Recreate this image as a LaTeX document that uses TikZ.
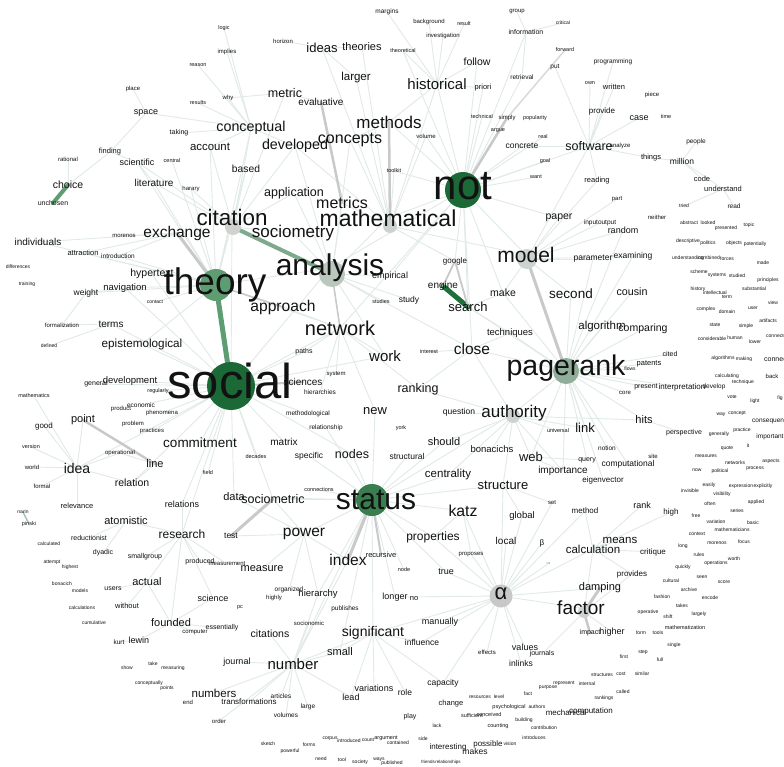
\documentclass[tikz,border=0pt]{standalone}
\usepackage{fontspec}
\setmainfont{Liberation Sans}
\pgfdeclarelayer{bg}
\pgfdeclarelayer{edges}
\pgfdeclarelayer{circ}
\pgfsetlayers{bg,edges,circ,main}
\definecolor{txt}{HTML}{121212}
\definecolor{faint}{HTML}{E0EAE8}
\definecolor{greyE}{HTML}{C9C9C9}
\definecolor{gA}{HTML}{5E9C72}
\definecolor{gB}{HTML}{7EA98D}
\definecolor{gC}{HTML}{1F6F3B}
\definecolor{gDark}{HTML}{1A6937}
\definecolor{gStat}{HTML}{3A7E50}
\definecolor{gPage}{HTML}{8FAD98}
\definecolor{gAna}{HTML}{B9C7BD}
\definecolor{gModel}{HTML}{CDD3CF}
\definecolor{gAlpha}{HTML}{C8C8C8}
\tikzset{
  wd/.style={inner sep=0pt,text=txt},
  hub/.style={circle,inner sep=0pt,draw=none},
  fe/.style={draw=faint,line width=0.9pt},
  te/.style={line cap=round},
}
\newcommand\Wd[4]{\node[wd,font=\fontsize{#3}{#3}\selectfont] (#4) at (#1,#2) {#4};}
\newcommand\Wn[5]{\node[wd,font=\fontsize{#4}{#4}\selectfont] (#1) at (#2,#3) {#5};}
\begin{document}
\begin{tikzpicture}[x=1pt,y=-1pt]
\begin{pgfonlayer}{bg}
\fill[white] (0,0) rectangle (784,766);
\end{pgfonlayer}
\useasboundingbox (0,0) rectangle (784,766);
% hub circles
\begin{pgfonlayer}{circ}
\node[hub,fill=gDark,minimum size=48pt] (c-social) at (231,386) {};
\node[hub,fill=gDark,minimum size=36pt] (c-not) at (463,190) {};
\node[hub,fill=gA,minimum size=32pt] (c-theory) at (216,285) {};
\node[hub,fill=gStat,minimum size=32pt] (c-status) at (372,500) {};
\node[hub,fill=gPage,minimum size=26pt] (c-pagerank) at (566,371) {};
\node[hub,fill=gAna,minimum size=26pt] (c-analysis) at (332,274) {};
\node[hub,fill=gModel,minimum size=20pt] (c-model) at (527,259) {};
\node[hub,fill=gAlpha,minimum size=23pt] (c-alpha) at (501,596) {};
\node[hub,fill=gModel,minimum size=16pt] (c-citation) at (233,227) {};
\node[hub,fill=gModel,minimum size=14pt] (c-math) at (390,226) {};
\node[hub,fill=gModel,minimum size=14pt] (c-auth) at (513,416) {};
\node[hub,fill=gModel,minimum size=12pt] (c-factor) at (584,612) {};
\end{pgfonlayer}
% ---- words: top ----
\Wd{387}{12}{6.5}{margins}
\Wd{429}{22}{6}{background}
\Wd{464}{24}{5.5}{result}
\Wd{443}{36}{6}{investigation}
\Wd{517}{12}{6}{group}
\Wd{563}{23}{5}{critical}
\Wd{526}{32}{7}{information}
\Wd{403}{51}{5.5}{theoretical}
\Wd{565}{50}{5.5}{forward}
\Wd{477}{62}{10.5}{follow}
\Wd{555}{67}{6.5}{put}
\Wd{437}{84}{15}{historical}
\Wd{483}{88}{7.5}{priori}
\Wd{522}{77}{6.5}{retrieval}
\Wd{590}{83}{5.5}{own}
\Wd{613}{62}{6.5}{programming}
\Wd{614}{87}{7.5}{written}
\Wd{652}{95}{6}{piece}
\Wd{602}{111}{8}{provide}
\Wd{639}{118}{9}{case}
\Wd{666}{117}{5.5}{time}
\Wd{389}{122}{17}{methods}
\Wd{482}{117}{5.5}{technical}
\Wd{507}{118}{6}{simply}
\Wd{535}{118}{5.5}{popularity}
\Wd{498}{131}{5.5}{argue}
\Wd{426}{136}{6}{volume}
\Wd{543}{137}{5.5}{real}
\Wd{522}{146}{8.5}{concrete}
\Wd{589}{146}{12.5}{software}
\Wd{620}{146}{6}{analyze}
\Wd{545}{161}{5.5}{goal}
\Wd{394}{171}{5.5}{toolkit}
\Wd{536}{177}{5.5}{want}
\Wd{463}{186}{42}{not}
\Wd{559}{218}{10.5}{paper}
\Wd{600}{223}{6.5}{inputoutput}
\Wd{696}{142}{6.5}{people}
\Wd{651}{158}{7.5}{things}
\Wd{682}{161}{8.5}{million}
\Wd{702}{179}{7.5}{code}
\Wd{723}{189}{7.5}{understand}
\Wd{597}{181}{7.5}{reading}
\Wd{617}{199}{6}{part}
\Wd{684}{206}{5}{tried}
\Wd{734}{206}{6.5}{read}
\Wd{657}{217}{6}{neither}
\Wd{623}{230}{9}{random}
\Wd{689}{223}{5}{abstract}
\Wd{708}{223}{5}{looked}
\Wd{726}{228}{5}{presented}
\Wd{749}{225}{5}{topic}
\Wd{688}{241}{5}{descriptive}
\Wd{708}{243}{5}{politics}
\Wd{734}{243}{5}{objects}
\Wd{755}{244}{5}{potentially}
\Wd{633}{256}{8.5}{examining}
\Wd{593}{259}{8.5}{parameter}
\Wd{688}{258}{5}{understanding}
\Wd{709}{258}{5}{combined}
\Wd{727}{259}{5}{forces}
\Wd{763}{263}{5}{made}
\Wd{699}{272}{5}{scheme}
\Wd{717}{275}{5}{systems}
\Wd{737}{276}{5}{studied}
\Wd{768}{280}{5}{principles}
% ---- top left ----
\Wd{198}{65}{5.5}{reason}
\Wd{133}{89}{6}{place}
\Wd{198}{103}{5.5}{results}
\Wd{146}{113}{9}{space}
\Wd{179}{133}{7}{taking}
\Wd{68}{159}{6}{rational}
\Wd{110}{152}{7.5}{finding}
\Wd{137}{162}{9}{scientific}
\Wd{172}{161}{5.5}{central}
\Wd{68}{185}{10.5}{choice}
\Wd{154}{183}{10}{literature}
\Wd{191}{189}{6}{harary}
\Wd{53}{203}{7}{unchosen}
\Wd{124}{236}{6}{morenos}
\Wd{177}{233}{15.5}{exchange}
\Wd{38}{242}{10}{individuals}
\Wd{83}{253}{7.5}{attraction}
\Wd{118}{256}{6.5}{introduction}
\Wd{224}{28}{5.5}{logic}
\Wd{283}{41}{6}{horizon}
\Wd{227}{52}{6}{implies}
\Wd{322}{48}{13}{ideas}
\Wd{362}{47}{11}{theories}
\Wd{356}{78}{11.5}{larger}
\Wd{228}{98}{6}{why}
\Wd{285}{93}{12.5}{metric}
\Wd{321}{102}{10}{evaluative}
\Wd{251}{128}{14.3}{conceptual}
\Wd{210}{147}{11.4}{account}
\Wd{295}{146}{14.3}{developed}
\Wd{350}{140}{16}{concepts}
\Wd{246}{169}{10.3}{based}
\Wd{294}{193}{12.5}{application}
\Wd{342}{203}{16}{metrics}
\Wd{232}{217}{22.4}{citation}
\Wd{388}{218}{23}{mathematical}
\Wd{293}{233}{17}{sociometry}
% ---- middle left ----
\Wd{18}{267}{5}{differences}
\Wd{27}{284}{5}{training}
\Wd{86}{293}{8.5}{weight}
\Wd{125}{288}{9.5}{navigation}
\Wd{155}{302}{5}{contact}
\Wd{62}{325}{6}{formalization}
\Wd{111}{324}{10}{terms}
\Wd{49}{346}{5}{defined}
\Wd{142}{344}{11.7}{epistemological}
\Wd{34}{396}{5.5}{mathematics}
\Wd{96}{384}{7}{general}
\Wd{130}{381}{9.5}{development}
\Wd{158}{391}{5.5}{regularly}
\Wd{121}{409}{6}{product}
\Wd{141}{405}{6.5}{economic}
\Wd{162}{413}{6}{phenomena}
\Wd{44}{426}{8}{good}
\Wd{83}{420}{11}{point}
\Wd{133}{424}{6}{problem}
\Wd{152}{431}{6}{practices}
\Wd{200}{443}{13.5}{commitment}
\Wd{31}{447}{5.5}{version}
\Wd{120}{453}{6}{operational}
\Wd{155}{464}{11}{line}
\Wd{32}{467}{6}{world}
\Wd{77}{468}{14}{idea}
\Wd{42}{486}{6}{formal}
\Wd{132}{483}{10.5}{relation}
\Wd{77}{506}{7.5}{relevance}
\Wd{182}{504}{9}{relations}
% ---- center ----
\Wd{215}{285}{37}{theory}
\Wd{152}{274}{10.5}{hypertext}
\Wd{330}{268}{30}{analysis}
\Wd{283}{307}{15.6}{approach}
\Wd{340}{328}{20}{network}
\Wd{304}{352}{7}{paths}
\Wd{385}{356}{15}{work}
\Wd{230}{381}{49}{social}
\Wd{303}{382}{10}{sciences}
\Wd{336}{374}{6}{system}
\Wd{320}{392}{6.5}{hierarchies}
\Wd{308}{414}{6.5}{methodological}
\Wd{375}{411}{13}{new}
\Wd{326}{428}{6.5}{relationship}
\Wd{284}{442}{10}{matrix}
\Wd{256}{457}{5.5}{decades}
\Wd{309}{456}{8.5}{specific}
\Wd{352}{454}{12.5}{nodes}
\Wd{208}{473}{5.5}{field}
\Wd{319}{490}{5.5}{connections}
\Wd{234}{497}{11}{data}
\Wd{273}{499}{12.5}{sociometric}
\Wd{376}{500}{30}{status}
% ---- right center ----
\Wd{455}{261}{8}{google}
\Wd{526}{255}{21}{model}
\Wd{390}{276}{9}{empirical}
\Wd{443}{286}{10}{engine}
\Wd{409}{300}{8.5}{study}
\Wd{381}{302}{5.5}{studies}
\Wd{503}{293}{10.5}{make}
\Wd{468}{307}{13}{search}
\Wd{571}{294}{13.5}{second}
\Wd{632}{292}{10.7}{cousin}
\Wd{698}{289}{5}{history}
\Wd{715}{293}{5}{intellectual}
\Wd{727}{297}{5}{term}
\Wd{754}{289}{5}{substantial}
\Wd{773}{303}{5}{view}
\Wd{706}{309}{5}{complex}
\Wd{727}{312}{5}{domain}
\Wd{753}{308}{5}{user}
\Wd{510}{333}{9.5}{techniques}
\Wd{602}{327}{11.5}{algorithm}
\Wd{643}{329}{10.5}{comparing}
\Wd{715}{325}{5}{state}
\Wd{746}{326}{5}{simple}
\Wd{768}{321}{5}{artifacts}
\Wd{712}{339}{5}{considerable}
\Wd{735}{338}{5}{human}
\Wd{755}{342}{5}{lower}
\node[wd,anchor=west,font=\fontsize{5}{5}\selectfont] (connected) at (766,336) {connected};
\node[wd,anchor=west,font=\fontsize{7}{7}\selectfont] (connection) at (764,359) {connection};
\Wd{429}{352}{5.5}{interest}
\Wd{472}{349}{15.5}{close}
\Wd{566}{368}{28.5}{pagerank}
\Wd{670}{354}{7}{cited}
\Wd{649}{364}{7.5}{patents}
\Wd{630}{369}{5}{flows}
\Wd{723}{358}{5}{algorithms}
\Wd{744}{359}{5}{making}
\Wd{727}{376}{5}{calculating}
\Wd{772}{376}{6}{back}
\Wd{743}{382}{5}{technique}
\Wd{646}{387}{7}{present}
\Wd{682}{387}{8}{interpretation}
\Wd{714}{387}{6.5}{develop}
\Wd{625}{393}{6}{core}
\Wd{732}{397}{5}{vote}
\Wd{755}{401}{5}{light}
\Wd{780}{398}{5}{fig}
\Wd{418}{389}{12.5}{ranking}
\Wd{459}{412}{8.5}{question}
\Wd{514}{413}{17}{authority}
\Wd{644}{420}{11}{hits}
\Wd{721}{415}{5}{way}
\Wd{737}{413}{5}{concept}
\node[wd,anchor=west,font=\fontsize{6.5}{6.5}\selectfont] (consequences) at (752,421) {consequences};
\Wd{401}{428}{5.5}{york}
\Wd{558}{431}{5.5}{universal}
\Wd{585}{428}{13}{link}
\Wd{684}{433}{7}{perspective}
\Wd{719}{434}{5}{generally}
\Wd{742}{430}{5}{practice}
\Wd{770}{437}{6.5}{important}
\Wd{727}{448}{5}{quote}
\Wd{748}{446}{5}{it}
\Wd{607}{448}{6.5}{notion}
\Wd{444}{442}{11}{should}
\Wd{492}{449}{9.5}{bonacichs}
\Wd{407}{456}{8.5}{structural}
\Wd{531}{457}{13}{web}
\Wd{587}{460}{7}{query}
\Wd{653}{456}{6}{site}
\Wd{706}{456}{5}{measures}
\Wd{771}{461}{5}{aspects}
\Wd{735}{463}{5}{networks}
\Wd{755}{469}{5}{process}
\Wd{628}{464}{8.5}{computational}
\Wd{563}{471}{10}{importance}
\Wd{697}{470}{5}{now}
\Wd{720}{471}{5}{political}
\Wd{603}{480}{8}{eigenvector}
\Wd{448}{475}{11.5}{centrality}
\Wd{503}{485}{13}{structure}
\Wd{690}{491}{5}{invisible}
\Wd{709}{485}{5}{easily}
\Wd{741}{486}{5}{expression}
\Wd{763}{486}{5}{explicitly}
\Wd{722}{494}{5}{visibility}
\Wd{552}{503}{6}{set}
% ---- lower right ----
\Wd{463}{511}{15.8}{katz}
\Wd{522}{516}{9.5}{global}
\Wd{585}{511}{8}{method}
\Wd{642}{505}{9}{rank}
\Wd{671}{512}{8}{high}
\Wd{710}{504}{5}{often}
\Wd{756}{502}{5}{applied}
\Wd{737}{511}{5}{series}
\Wd{696}{516}{5}{free}
\Wd{716}{522}{5}{variation}
\Wd{753}{523}{5}{basic}
\Wd{732}{530}{5}{mathematicians}
\Wd{433}{537}{12}{properties}
\Wd{506}{541}{10}{local}
\Wn{beta}{542}{543}{8}{β}
\Wd{593}{549}{11.5}{calculation}
\Wd{620}{540}{11.5}{means}
\Wd{697}{534}{5}{context}
\Wd{683}{546}{5}{long}
\Wn{morenosb}{717}{543}{5}{morenos}
\Wd{744}{542}{5}{focus}
\Wd{653}{552}{8}{critique}
\Wd{699}{555}{5}{rules}
\Wd{716}{563}{5}{operations}
\Wd{734}{559}{5}{worth}
\Wd{683}{567}{5}{quickly}
\Wd{381}{555}{7.5}{recursive}
\Wd{471}{554}{6}{proposes}
\Wn{arrow}{548}{564}{6}{→}
\Wn{nodeW}{404}{570}{5.5}{node}
\Wd{446}{572}{9}{true}
\Wd{632}{574}{8}{provides}
\Wd{702}{577}{5}{seen}
\Wd{671}{581}{5}{cultural}
\Wd{724}{582}{5}{score}
\Wd{689}{590}{5}{archive}
\Wd{600}{588}{11}{damping}
\Wn{alpha}{501}{594}{22}{α}
\Wd{395}{597}{9}{longer}
\Wd{414}{599}{7.5}{no}
\Wd{662}{597}{5}{fashion}
\Wd{710}{598}{5}{encode}
\Wd{581}{608}{19}{factor}
\Wd{682}{606}{5}{takes}
\Wd{648}{612}{5}{operative}
\Wd{699}{614}{5}{largely}
\Wd{668}{617}{5}{shift}
\Wd{440}{622}{9}{manually}
\Wd{373}{633}{14}{significant}
\Wd{422}{642}{8.5}{influence}
\Wd{590}{633}{7}{impact}
\Wd{612}{632}{9}{higher}
\Wd{685}{628}{5.5}{mathematization}
\Wd{641}{633}{5}{form}
\Wd{658}{633}{5}{tools}
\Wd{674}{645}{5}{single}
\Wd{643}{652}{5}{step}
\Wd{624}{657}{5}{first}
\Wd{660}{660}{5}{full}
\Wd{487}{652}{6}{effects}
\Wd{525}{647}{9}{values}
\Wd{542}{654}{7}{journals}
\Wd{521}{663}{8.5}{inlinks}
\Wd{602}{675}{5}{structures}
\Wd{621}{674}{5}{cost}
\Wd{642}{674}{5}{similar}
\Wd{623}{692}{5}{called}
\Wd{604}{698}{5}{rankings}
\Wd{443}{683}{8.5}{capacity}
\Wd{374}{688}{9}{variations}
\Wd{405}{692}{8.5}{role}
\Wd{351}{697}{9}{lead}
\Wd{564}{683}{5}{represent}
\Wd{587}{684}{5}{internal}
\Wd{548}{688}{5}{purpose}
\Wd{528}{694}{5}{fact}
\Wd{480}{697}{5}{resources}
\Wd{499}{697}{5}{level}
\Wd{451}{704}{7.5}{change}
\Wd{509}{707}{5.5}{psychological}
\Wd{537}{707}{5}{authors}
\Wd{566}{713}{8}{mechanical}
\Wd{591}{711}{8}{computation}
\Wd{410}{717}{7}{play}
\Wd{472}{716}{5.5}{sufficient}
\Wd{489}{715}{5.5}{conceived}
\Wd{524}{720}{5}{building}
\Wd{437}{726}{5}{lack}
\Wd{498}{726}{5.5}{counting}
\Wd{544}{728}{5}{contribution}
\Wd{386}{738}{5.5}{argument}
\Wd{423}{739}{5}{side}
\Wd{398}{743}{5}{contained}
\Wd{534}{738}{5}{introduces}
\Wd{448}{747}{8}{interesting}
\Wd{488}{744}{8}{possible}
\Wd{475}{751}{8.5}{makes}
\Wd{510}{744}{5}{vision}
\Wd{392}{763}{5}{published}
\Wd{428}{762}{4.5}{friends}
\Wd{448}{762}{4.5}{relationships}
% ---- lower left ----
\Wd{182}{534}{12}{research}
\Wd{231}{536}{8.5}{test}
\Wd{304}{534}{15.5}{power}
\Wd{348}{560}{15.5}{index}
\Wd{200}{562}{7}{produced}
\Wd{227}{564}{6}{measurement}
\Wd{262}{569}{11}{measure}
\Wd{289}{590}{6.5}{organized}
\Wd{318}{594}{9.5}{hierarchy}
\Wd{213}{598}{9}{science}
\Wd{274}{598}{6}{highly}
\Wd{240}{608}{5.5}{pc}
\Wd{345}{609}{6.5}{publishes}
\Wd{309}{623}{6}{socionomic}
\Wd{195}{632}{6}{computer}
\Wd{222}{628}{7}{essentially}
\Wd{270}{634}{10.5}{citations}
\Wd{340}{652}{11}{small}
\Wd{237}{662}{9}{journal}
\Wd{293}{664}{15}{number}
\Wd{214}{693}{11.5}{numbers}
\Wd{281}{696}{6.5}{articles}
\Wd{249}{702}{8}{transformations}
\Wd{308}{707}{6.5}{large}
\Wd{286}{715}{6.5}{volumes}
\Wd{219}{721}{6}{order}
\Wd{188}{702}{6}{end}
\Wd{268}{744}{5}{sketch}
\Wd{330}{739}{5}{corpus}
\Wd{349}{741}{5}{introduced}
\Wd{368}{740}{5}{count}
\Wd{309}{745}{5}{forms}
\Wd{290}{751}{5}{powerful}
\Wd{321}{759}{5}{need}
\Wd{342}{760}{5}{tool}
\Wd{360}{762}{5}{society}
\Wd{379}{760}{5}{ways}
\Wd{23}{512}{5}{narin}
\Wd{29}{524}{5.5}{pinski}
\Wd{126}{521}{11}{atomistic}
\Wd{89}{538}{7}{reductionist}
\Wd{49}{544}{5}{calculated}
\Wd{103}{553}{7}{dyadic}
\Wd{145}{557}{7}{smallgroup}
\Wd{52}{562}{5}{attempt}
\Wd{70}{567}{5}{highest}
\Wd{62}{584}{5}{bonacich}
\Wd{80}{591}{5}{models}
\Wd{113}{589}{7}{users}
\Wd{147}{582}{11}{actual}
\Wd{82}{608}{5}{calculations}
\Wd{127}{606}{7.5}{without}
\Wd{94}{623}{5}{cumulative}
\Wd{171}{623}{11}{founded}
\Wd{119}{642}{6.5}{kurt}
\Wd{139}{640}{9}{lewin}
\Wd{127}{668}{5}{show}
\Wd{153}{664}{5}{take}
\Wd{173}{668}{5}{measuring}
\Wd{149}{683}{5}{conceptually}
\Wd{167}{688}{5}{points}
% ---- connectors ----
\begin{pgfonlayer}{edges}
\foreach \t in {epistemological,development,commitment,relations,data,matrix,field,decades,network,hypertext,terms,regularly,economic,phenomena,practices,sociometric,methodological,paths,work,relation,research,analysis,citation,nodes,idea,navigation,general}
  \draw[fe] (c-social.center) -- (\t.center);
\foreach \t in {citation,literature,scientific,navigation,weight,attraction,individuals,analysis,conceptual,based,network,epistemological,account,introduction,contact,harary,central}
  \draw[fe] (c-theory.center) -- (\t.center);
\foreach \t in {historical,follow,methods,toolkit,volume,concrete,software,paper,model,mathematical,analysis,google,technical,argue,information,retrieval,priori,theoretical,want,goal,real,close,empirical,network,search,make}
  \draw[fe] (c-not.center) -- (\t.center);
\foreach \t in {mathematical,metrics,sociometry,network,empirical,studies,study,application,developed,concepts,work,close}
  \draw[fe] (c-analysis.center) -- (\t.center);
\foreach \t in {conceptual,account,based,developed,literature,harary,sociometry,application,metric,scientific}
  \draw[fe] (c-citation.center) -- (\t.center);
\foreach \t in {metrics,concepts,historical,toolkit,larger,theories,ideas,developed,model,google,volume}
  \draw[fe] (c-math.center) -- (\t.center);
\foreach \t in {power,katz,nodes,sociometric,properties,centrality,structural,should,new,significant,small,hierarchy,connections,data,authority,structure,number,nodeW,longer,true,specific,relationship}
  \draw[fe] (c-status.center) -- (\t.center);
\foreach \t in {algorithm,second,cousin,comparing,link,hits,authority,web,techniques,close,cited,patents,flows,present,interpretation,core,parameter,random,examining,make,search,importance,query,eigenvector,notion,computational}
  \draw[fe] (c-pagerank.center) -- (\t.center);
\foreach \t in {katz,global,local,beta,arrow,true,proposes,manually,values,effects,inlinks,factor,calculation,longer,significant,influence,properties,structure,method,set,damping,capacity}
  \draw[fe] (c-alpha.center) -- (\t.center);
\foreach \t in {web,hits,bonacichs,question,ranking,link,close,importance,structure,centrality,universal,should}
  \draw[fe] (c-auth.center) -- (\t.center);
\foreach \t in {paper,software,second,parameter,random,reading,inputoutput,part,make,examining}
  \draw[fe] (c-model.center) -- (\t.center);
\foreach \t in {provide,case,written,programming,own,put,reading,analyze,things,concrete}
  \draw[fe] (software.center) -- (\t.center);
\foreach \t in {people,code,things,understand} \draw[fe] (million.center) -- (\t.center);
\foreach \t in {read,tried} \draw[fe] (understand.center) -- (\t.center);
\foreach \t in {citations,journal,numbers,articles,transformations,large,volumes,small,lead,significant,index,hierarchy,socionomic,order}
  \draw[fe] (number.center) -- (\t.center);
\foreach \t in {measure,index,sociometric,data,test,hierarchy,organized}
  \draw[fe] (power.center) -- (\t.center);
\foreach \t in {relations,smallgroup,actual,atomistic,founded,produced,measurement,science}
  \draw[fe] (research.center) -- (\t.center);
\foreach \t in {lewin,computer,science,actual,essentially} \draw[fe] (founded.center) -- (\t.center);
\foreach \t in {point,good,version,world,formal,relevance,operational,relation,mathematics}
  \draw[fe] (idea.center) -- (\t.center);
\foreach \t in {space,taking,account,results,why,implies,logic,developed,reason}
  \draw[fe] (conceptual.center) -- (\t.center);
\foreach \t in {place,finding} \draw[fe] (space.center) -- (\t.center);
\foreach \t in {finding,literature} \draw[fe] (scientific.center) -- (\t.center);
\foreach \t in {theoretical,investigation,background,follow,priori,methods,margins,result}
  \draw[fe] (historical.center) -- (\t.center);
\foreach \t in {group,retrieval,critical} \draw[fe] (information.center) -- (\t.center);
\foreach \t in {means,method,rank,high,provides,critique} \draw[fe] (calculation.center) -- (\t.center);
\foreach \t in {journals,higher,calculation,provides} \draw[fe] (c-factor.center) -- (\t.center);
\foreach \t in {variations,influence,role,lead,capacity,small} \draw[fe] (significant.center) -- (\t.center);
\foreach \t in {morenos,introduction,attraction,individuals} \draw[fe] (exchange.center) -- (\t.center);
\foreach \t in {rational,finding} \draw[fe] (choice.center) -- (\t.center);
\foreach \t in {horizon,theories,larger} \draw[fe] (ideas.center) -- (\t.center);
\foreach \t in {evaluative,why} \draw[fe] (metric.center) -- (\t.center);
\foreach \t in {methods,developed} \draw[fe] (concepts.center) -- (\t.center);
\foreach \t in {paths,work,approach,system,hierarchies,ranking,new} \draw[fe] (network.center) -- (\t.center);
\foreach \t in {techniques,interest,ranking} \draw[fe] (close.center) -- (\t.center);
\foreach \t in {techniques,make} \draw[fe] (search.center) -- (\t.center);
\foreach \t in {reductionist,dyadic} \draw[fe] (atomistic.center) -- (\t.center);
\foreach \t in {users,without} \draw[fe] (actual.center) -- (\t.center);
\foreach \t in {navigation,formalization} \draw[fe] (weight.center) -- (\t.center);
\foreach \t in {formalization,defined} \draw[fe] (terms.center) -- (\t.center);
\foreach \t in {operational,relation} \draw[fe] (line.center) -- (\t.center);
\draw[fe] (hits.center) -- (perspective.center);
\foreach \t in {importance,query} \draw[fe] (web.center) -- (\t.center);
\foreach \t in {proposes,properties} \draw[fe] (katz.center) -- (\t.center);
\foreach \t in {set,global} \draw[fe] (structure.center) -- (\t.center);
\draw[fe] (kurt.center) -- (lewin.center);
% stronger connectors
\draw[te,line width=5pt,draw=gA] (c-theory.center) -- (c-social.center);
\draw[te,line width=4pt,draw=gB] (c-citation.center) -- (c-analysis.center);
\draw[te,line width=4pt,draw=gA] (choice.center) -- (unchosen.center);
\draw[te,line width=5pt,draw=gC] (engine.center) -- (search.center);
\draw[te,line width=1.5pt,draw=gB!70] (narin.center) -- (pinski.center);
\draw[te,line width=3pt,draw=greyE] (c-model.center) -- (c-pagerank.center);
\draw[te,line width=2.5pt,draw=greyE] (methods.center) -- (c-math.center);
\draw[te,line width=2.5pt,draw=greyE] (evaluative.center) -- (metrics.center);
\draw[te,line width=3pt,draw=greyE] (c-status.center) -- (index.center);
\draw[te,line width=2pt,draw=greyE] (c-status.center) -- (recursive.center);
\draw[te,line width=3pt,draw=greyE] (sociometric.center) -- (test.center);
\draw[te,line width=2.5pt,draw=greyE] (point.center) -- (line.center);
\draw[te,line width=3pt,draw=greyE] (c-factor.center) -- (damping.center);
\draw[te,line width=2.5pt,draw=greyE] (c-factor.center) -- (impact.center);
\draw[te,line width=2.5pt,draw=greyE] (c-not.center) -- (simply.center);
\draw[te,line width=1.5pt,draw=greyE!70] (simply.center) -- (forward.center);
\draw[te,line width=1.8pt,draw=greyE] (google.center) -- (engine.center);
\draw[te,line width=1.8pt,draw=greyE] (google.center) -- (search.center);
\draw[te,line width=3pt,draw=greyE] (exchange.center) -- (c-theory.center);
\draw[te,line width=2pt,draw=greyE] (c-social.center) -- (sciences.center);
\draw[te,line width=1.5pt,draw=greyE] (c-analysis.center) -- (network.center);
\draw[te,line width=1.5pt,draw=greyE] (c-theory.center) -- (approach.center);
\end{pgfonlayer}
\end{tikzpicture}
\end{document}
